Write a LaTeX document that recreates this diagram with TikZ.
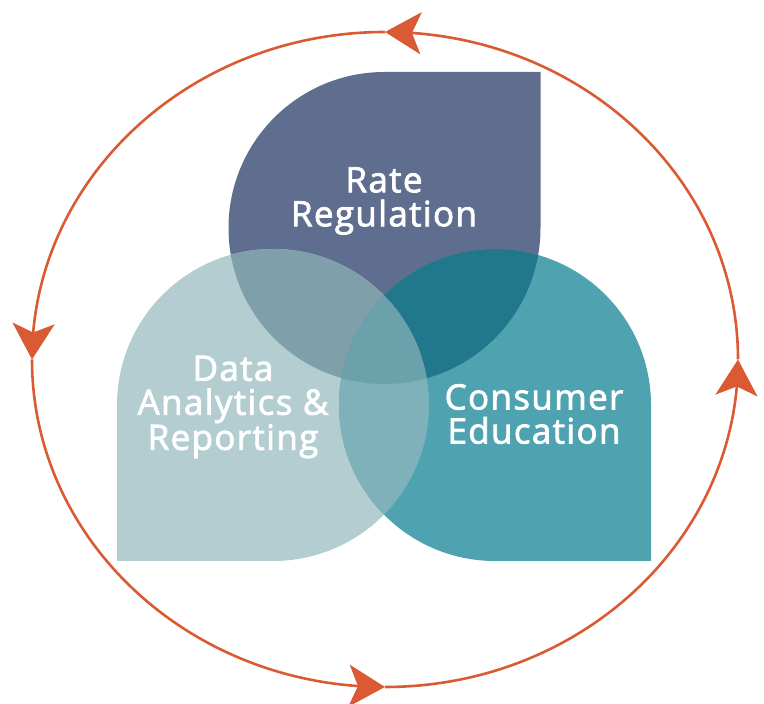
\documentclass[tikz,border=0pt]{standalone}
\usepackage{fontspec}
\setmainfont{Open Sans}
\usetikzlibrary{arrows.meta,bending}

\definecolor{rateC}{RGB}{95,109,142}
\definecolor{dataC}{RGB}{179,205,209}
\definecolor{consC}{RGB}{79,162,176}
\definecolor{rateDataC}{RGB}{127,160,170}
\definecolor{rateConsC}{RGB}{33,119,139}
\definecolor{dataConsC}{RGB}{126,177,186}
\definecolor{allThreeC}{RGB}{107,161,171}
\definecolor{cycleC}{RGB}{218,91,51}

\tikzset{
  rate outline/.style={insert path={(384.5,632) -- (540.5,632) -- (540.5,476)
      arc[start angle=0,end angle=-270,radius=156] -- cycle}},
  data outline/.style={insert path={(117,299) -- (117,143) -- (273,143)
      arc[start angle=-90,end angle=180,radius=156] -- cycle}},
  cons outline/.style={insert path={(651,299)
      arc[start angle=0,end angle=270,radius=156] -- (651,143) -- cycle}},
  label text/.style={text=white, align=center, inner sep=0pt,
      font=\fontsize{35}{34}\selectfont\addfontfeatures{FakeBold=2.2,LetterSpace=3.8}},
  cycle line/.style={draw=cycleC, line width=2.6pt,
      -{Stealth[length=36pt,width=42pt,inset=9pt]}},
}

\begin{document}
\begin{tikzpicture}[x=1pt,y=1pt]
  \useasboundingbox (0,0) rectangle (764,704);

  % the three petals
  \fill[rateC, rate outline];
  \fill[dataC, data outline];
  \fill[consC, cons outline];

  % overlaps
  \begin{scope}
    \clip[rate outline];
    \fill[rateDataC, data outline];
    \fill[rateConsC, cons outline];
  \end{scope}
  \begin{scope}
    \clip[data outline];
    \fill[dataConsC, cons outline];
    \clip[rate outline];
    \fill[allThreeC, cons outline];
  \end{scope}

  % labels
  \node[label text] (rate) at (384,503) {Rate\\Regulation};
  \node[label text] (data) at (233,297) {Data\\Analytics \&\\Reporting};
  \node[label text] (cons) at (534,290) {Consumer\\Education};

  % surrounding cycle
  \coordinate (east)  at (738,344.5);
  \coordinate (north) at (385,672);
  \coordinate (west)  at (32,344.5);
  \coordinate (south) at (385,17);
  \draw[cycle line] (east)  arc[start angle=0,  end angle=90, x radius=353,y radius=327.5];
  \draw[cycle line] (north) arc[start angle=90, end angle=180,x radius=353,y radius=327.5];
  \draw[cycle line] (west)  arc[start angle=180,end angle=270,x radius=353,y radius=327.5];
  \draw[cycle line] (south) arc[start angle=270,end angle=360,x radius=353,y radius=327.5];
\end{tikzpicture}
\end{document}
